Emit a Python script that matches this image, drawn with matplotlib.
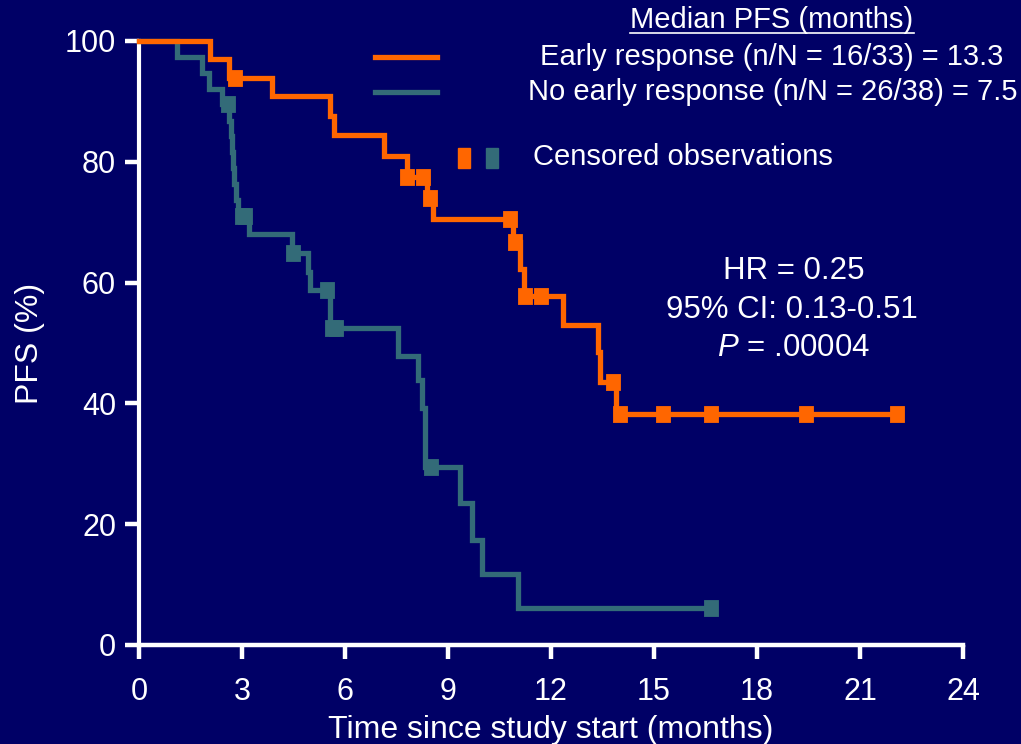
import matplotlib
matplotlib.use("Agg")
import matplotlib.pyplot as plt
from matplotlib.lines import Line2D
from matplotlib.patches import Rectangle

plt.rcParams['font.family'] = ['Liberation Sans', 'DejaVu Sans']
plt.rcParams['mathtext.fontset'] = 'custom'
plt.rcParams['mathtext.rm'] = 'Liberation Sans'
plt.rcParams['mathtext.it'] = 'Liberation Sans:italic'

# Kaplan-Meier step data (months, PFS %)
early_t = [0, 2.07, 2.62, 3.88, 5.56, 5.67, 7.14, 7.8, 8.4, 8.56, 10.88, 11.1, 11.2,
           12.35, 13.37, 13.43, 13.9]
early_s = [100, 97.0, 93.9, 90.9, 87.6, 84.4, 80.9, 77.5, 74.0, 70.5, 66.7, 62.3, 57.8,
           53.0, 48.5, 43.6, 38.2]
early_end = 22.08
early_cens_t = [2.8, 7.8, 8.27, 8.47, 10.8, 10.95, 11.25, 11.7, 13.8, 14.0, 15.27,
                16.67, 19.43, 22.08]
early_cens_s = [93.9, 77.5, 77.5, 74.0, 70.5, 66.7, 57.8, 57.8, 43.6, 38.2, 38.2,
                38.2, 38.2, 38.2]

late_t = [0, 1.1, 1.83, 2.04, 2.42, 2.63, 2.67, 2.7, 2.74, 2.78, 2.82, 2.87, 3.2,
          4.45, 4.92, 4.98, 5.57, 7.54, 8.13, 8.24, 8.33, 9.35, 9.7, 10.0, 11.04]
late_s = [100, 97.4, 94.7, 92.1, 89.5, 86.8, 84.2, 81.6, 78.9, 76.3, 73.7, 71.1, 68.0,
          64.9, 61.8, 58.8, 52.5, 47.8, 43.9, 39.2, 29.5, 23.5, 17.4, 11.8, 6.1]
late_end = 16.66
late_cens_t = [2.58, 3.0, 3.1, 4.48, 5.47, 5.62, 5.75, 8.5, 16.66]
late_cens_s = [89.5, 71.1, 71.1, 64.9, 58.8, 52.5, 52.5, 29.5, 6.1]

x_ticks = [0, 3, 6, 9, 12, 15, 18, 21, 24]
y_ticks = [0, 20, 40, 60, 80, 100]

BG = '#000066'
ORANGE = '#FF6600'
TEAL = '#336B78'
W, H = 1021, 744

fig = plt.figure(figsize=(W / 100, H / 100), dpi=100, facecolor=BG)
ax = fig.add_axes([139 / W, 1 - 645 / H, (963 - 139) / W, (645 - 41) / H])
ax.set_facecolor(BG)

rect_marker = [(-0.42, -0.5), (0.42, -0.5), (0.42, 0.5), (-0.42, 0.5), (-0.42, -0.5)]

for t, s, t_end, ct, cs, col in [
        (late_t, late_s, late_end, late_cens_t, late_cens_s, TEAL),
        (early_t, early_s, early_end, early_cens_t, early_cens_s, ORANGE)]:
    ax.step(list(t) + [t_end], list(s) + [s[-1]], where='post', color=col, lw=3.8,
            solid_joinstyle='miter', clip_on=False, zorder=3)
    ax.plot(ct, cs, ls='none', marker=rect_marker, markersize=11.5, color=col,
            markeredgewidth=0.6, markeredgecolor=col, clip_on=False, zorder=4)

ax.set_xlim(0, 24)
ax.set_ylim(0, 100)
ax.set_xticks(x_ticks)
ax.set_yticks(y_ticks)
ax.set_xticklabels([str(v) for v in x_ticks])
ax.set_yticklabels([str(v) for v in y_ticks])

for side in ['top', 'right']:
    ax.spines[side].set_visible(False)
ax.spines['left'].set_color('white')
ax.spines['left'].set_linewidth(3.0)
ax.spines['bottom'].set_color('white')
ax.spines['bottom'].set_linewidth(3.2)
ax.tick_params(axis='both', colors='white', width=3.2, length=10, labelsize=22,
               direction='out')
ax.tick_params(axis='x', pad=13)
ax.tick_params(axis='y', pad=6.5)

ax.set_xlabel('Time since study start (months)', color='white', fontsize=23, labelpad=6)
ax.set_ylabel('PFS (%)', color='white', fontsize=23, labelpad=14)


def fx(px):
    return px / W


def fy(py):
    return 1 - py / H


# Legend block
title = fig.text(fx(772), fy(20), 'Median PFS (months)', color='white', fontsize=21,
                 ha='center', va='center')
fig.text(fx(772), fy(57), 'Early response (n/N = 16/33) = 13.3', color='white',
         fontsize=21, ha='center', va='center')
fig.text(fx(773), fy(92), 'No early response (n/N = 26/38) = 7.5', color='white',
         fontsize=21, ha='center', va='center')
fig.add_artist(Line2D([fx(375), fx(437)], [fy(57), fy(57)], color=ORANGE, lw=3.8))
fig.add_artist(Line2D([fx(375), fx(437)], [fy(92), fy(92)], color=TEAL, lw=3.8))

fig.add_artist(Rectangle((fx(458), fy(168)), 12 / W, 20 / H, color=ORANGE))
fig.add_artist(Rectangle((fx(486), fy(168)), 12 / W, 20 / H, color=TEAL))
fig.text(fx(533), fy(157), 'Censored observations', color='white', fontsize=21,
         ha='left', va='center')

# Hazard ratio annotation
fig.text(fx(794), fy(271), 'HR = 0.25', color='white', fontsize=22.5, ha='center',
         va='center')
fig.text(fx(792), fy(310), '95% CI: 0.13-0.51', color='white', fontsize=22.5,
         ha='center', va='center')
fig.text(fx(794), fy(348), r'$P$ = .00004', color='white', fontsize=22.5, ha='center',
         va='center')

# Underline the legend title
fig.canvas.draw()
bb = title.get_window_extent()
fig.add_artist(Line2D([bb.x0 / W, bb.x1 / W], [fy(33), fy(33)], color='white', lw=1.2))

fig.savefig('out.png', dpi=100, facecolor=BG)
